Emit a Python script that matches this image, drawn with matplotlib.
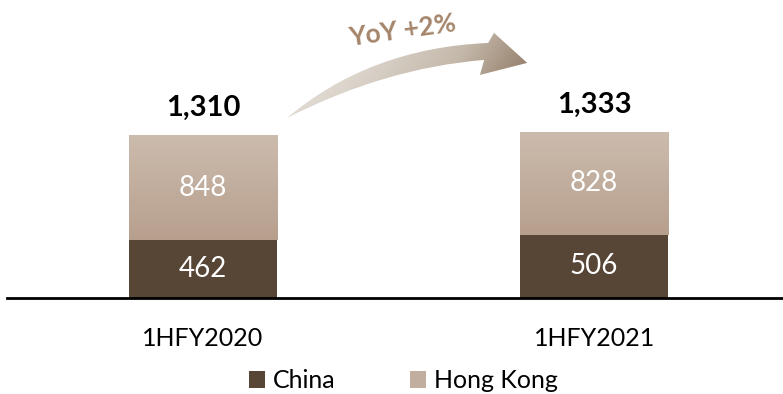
import numpy as np
import matplotlib
matplotlib.use('Agg')
import matplotlib.pyplot as plt
from matplotlib.patches import Patch, PathPatch
from matplotlib.path import Path
from matplotlib.colors import LinearSegmentedColormap

# Revenue by region (HK$ m)
periods = ['1HFY2020', '1HFY2021']
china = [462, 506]
hong_kong = [848, 828]
totals = [1310, 1333]
yoy_label = 'YoY +2%'

CHINA_COLOR = '#574536'
HK_TOP = '#ccbcae'
HK_BOTTOM = '#b79f8d'
TEXT_BROWN = '#a5856a'

plt.rcParams['font.family'] = ['Lato', 'DejaVu Sans']

fig = plt.figure(figsize=(7.83, 3.94), dpi=100)
ax = fig.add_axes([0.009, 0.2437, 0.991, 0.7563])

x = np.arange(len(periods))
width = 0.3785

ax.bar(x, china, width, color=CHINA_COLOR, zorder=2)
hk_bars = ax.bar(x, hong_kong, width, bottom=china, color='none', zorder=2)

# vertical gradient fill for the Hong Kong segment
hk_cmap = LinearSegmentedColormap.from_list('hk', [HK_BOTTOM, HK_TOP])
grad = np.linspace(0, 1, 256).reshape(-1, 1)
for bar in hk_bars:
    x0, y0 = bar.get_x(), bar.get_y()
    im = ax.imshow(grad, cmap=hk_cmap, origin='lower', aspect='auto',
                   extent=[x0, x0 + bar.get_width(), y0, y0 + bar.get_height()],
                   zorder=2)
    im.set_clip_path(bar)

ax.set_xlim(-0.501, 1.483)
ax.set_ylim(0, 2393)

for i in x:
    ax.text(i, china[i] / 2, f'{china[i]}', ha='center', va='center',
            color='white', fontsize=20, zorder=3)
    ax.text(i, china[i] + hong_kong[i] / 2, f'{hong_kong[i]}', ha='center',
            va='center', color='white', fontsize=20, zorder=3)
    ax.text(i, totals[i] + 110, f'{totals[i]:,}', ha='center', va='bottom',
            fontsize=21, fontweight='bold', color='black')

# curved growth arrow between the two bars
verts = [
    (0.215, 1446),
    (0.427, 2008), (0.729, 2048),   # upper edge of the shaft
    (0.744, 2129),
    (0.829, 1888),
    (0.708, 1791),
    (0.719, 1912),
    (0.465, 1847), (0.215, 1446),   # lower edge back to the tail
    (0.215, 1446),
]
codes = [Path.MOVETO, Path.CURVE3, Path.CURVE3, Path.LINETO, Path.LINETO,
         Path.LINETO, Path.LINETO, Path.CURVE3, Path.CURVE3, Path.CLOSEPOLY]
arrow_path = Path(verts, codes)
arrow_patch = PathPatch(arrow_path, facecolor='none', edgecolor='none')
ax.add_patch(arrow_patch)

arrow_cmap = LinearSegmentedColormap.from_list(
    'arrow', ['#e6e1da', '#dcd5cc', '#c4b8aa', '#8a725c'])
gx, gy = np.meshgrid(np.linspace(0, 1, 300), np.linspace(0, 1, 100))
arrow_grad = np.clip(0.85 * gx + 0.2 * (1 - gy), 0, 1)
im = ax.imshow(arrow_grad, cmap=arrow_cmap, origin='lower', aspect='auto',
               extent=[0.215, 0.829, 1446, 2129], zorder=1)
im.set_clip_path(arrow_patch)

ax.text(0.509, 2150, yoy_label, ha='center', va='center', rotation=8,
        fontsize=19, fontweight='bold', color=TEXT_BROWN)

for side in ['top', 'right', 'left']:
    ax.spines[side].set_visible(False)
ax.spines['bottom'].set_linewidth(2)
ax.spines['bottom'].set_color('black')
ax.set_yticks([])
ax.set_xticks(x)
ax.set_xticklabels(periods, fontsize=18)
ax.tick_params(axis='x', length=0, pad=21)

handles = [Patch(facecolor=CHINA_COLOR, label='China'),
           Patch(facecolor='#c2ae9e', label='Hong Kong')]
fig.legend(handles=handles, loc='center', bbox_to_anchor=(0.515, 0.033),
           ncol=2, frameon=False, fontsize=18, handlelength=0.65,
           handleheight=0.65, handletextpad=0.3, columnspacing=3.0)

fig.savefig('out.png', dpi=100)
